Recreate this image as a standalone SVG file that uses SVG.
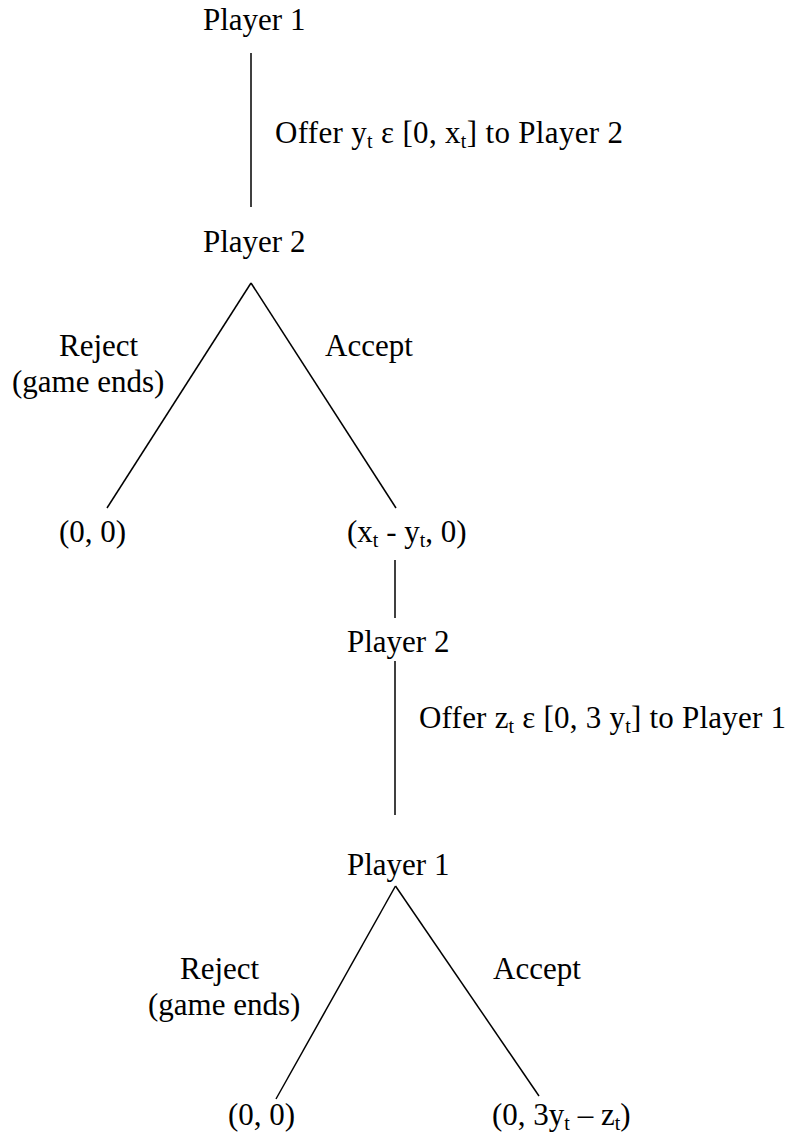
<svg xmlns="http://www.w3.org/2000/svg" width="790" height="1135" viewBox="0 0 790 1135">
<style>
text{font-family:"Liberation Serif","Times New Roman",serif;font-size:31px;fill:#000}
.sub{font-size:20px}
.edge{stroke:#000;stroke-width:1.5;fill:none}
</style>
<rect width="790" height="1135" fill="#fff"/>
<g id="connectors">
<line class="edge" x1="251" y1="53" x2="251" y2="207"/>
<line class="edge" x1="251" y1="283" x2="107" y2="508"/>
<line class="edge" x1="251" y1="283" x2="396" y2="508"/>
<line class="edge" x1="395" y1="560" x2="395" y2="618"/>
<line class="edge" x1="395" y1="661" x2="395" y2="815"/>
<line class="edge" x1="395.5" y1="886" x2="276" y2="1099"/>
<line class="edge" x1="395.5" y1="886" x2="539" y2="1096"/>
</g>
<g id="labels">
<text x="275" y="143" textLength="348" lengthAdjust="spacing">Offer y<tspan class="sub" dy="5">t</tspan><tspan dy="-5"> ε [0, x</tspan><tspan class="sub" dy="5">t</tspan><tspan dy="-5">] to Player 2</tspan></text>
<text x="59" y="356">Reject</text>
<text x="12" y="392">(game ends)</text>
<text x="325" y="356">Accept</text>
<text x="419" y="728" textLength="367" lengthAdjust="spacing">Offer z<tspan class="sub" dy="5">t</tspan><tspan dy="-5"> ε [0, 3 y</tspan><tspan class="sub" dy="5">t</tspan><tspan dy="-5">] to Player 1</tspan></text>
<text x="180" y="979">Reject</text>
<text x="148" y="1015">(game ends)</text>
<text x="493" y="979">Accept</text>
</g>
<g id="n-p1-top"><text x="203" y="30">Player 1</text></g>
<g id="n-p2-top"><text x="203" y="252">Player 2</text></g>
<g id="n-leaf-00-top"><text x="59" y="542">(0, 0)</text></g>
<g id="n-leaf-xy"><text x="347" y="542">(x<tspan class="sub" dy="5">t</tspan><tspan dy="-5"> - y</tspan><tspan class="sub" dy="5">t</tspan><tspan dy="-5">, 0)</tspan></text></g>
<g id="n-p2-mid"><text x="347" y="652">Player 2</text></g>
<g id="n-p1-bottom"><text x="347" y="875">Player 1</text></g>
<g id="n-leaf-00-bottom"><text x="228" y="1125">(0, 0)</text></g>
<g id="n-leaf-yz"><text x="492" y="1125">(0, 3y<tspan class="sub" dy="5">t</tspan><tspan dy="-5"> – z</tspan><tspan class="sub" dy="5">t</tspan><tspan dy="-5">)</tspan></text></g>
</svg>
